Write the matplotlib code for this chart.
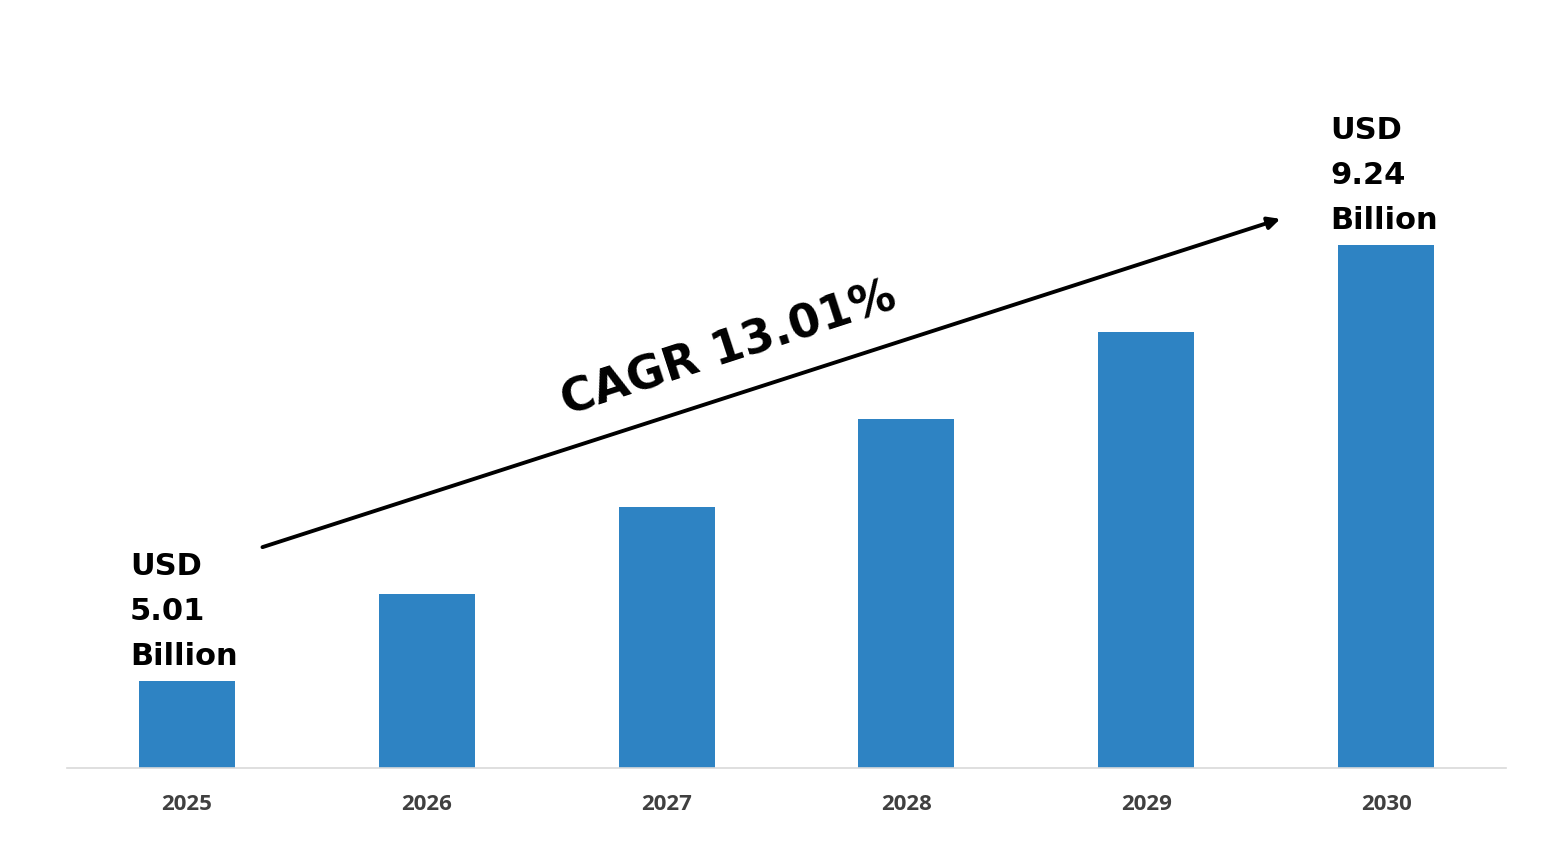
import numpy as np
import matplotlib.pyplot as plt

## Data
years = ['2025', '2026', '2027', '2028', '2029', '2030']
bar_values = [0.87, 1.74, 2.61, 3.49, 4.36, 5.23]
first_label = 'USD\n5.01\nBillion'
last_label = 'USD\n9.24\nBillion'
cagr_text = 'CAGR 13.01%'

bar_color = '#2E83C3'

fig = plt.figure(figsize=(15.41, 8.46), dpi=100)
ax = fig.add_axes([67 / 1541, 78 / 846, 1439 / 1541, 768 / 846])

x = np.arange(len(years))
ax.bar(x, bar_values, width=0.4, color=bar_color, zorder=2)

ax.set_xlim(-0.5, 5.5)
ax.set_ylim(0, 7.68)
ax.set_yticks([])
ax.set_xticks(x)
ax.set_xticklabels(years, fontsize=16, color='#404040', fontweight='bold',
                   family=['Open Sans', 'DejaVu Sans'])
ax.tick_params(axis='x', length=0, pad=19)
for side in ['top', 'left', 'right']:
    ax.spines[side].set_visible(False)
ax.spines['bottom'].set_color('#d9d9d9')
ax.spines['bottom'].set_linewidth(1.2)

# value labels on first and last bars
lab_font = dict(fontsize=22, fontweight='bold', color='black', family=['DejaVu Sans'],
                ha='left', va='bottom', linespacing=1.7)
ax.text(x[0] - 0.2375, bar_values[0] + 0.10, first_label, **lab_font)
ax.text(x[-1] - 0.2333, bar_values[-1] + 0.10, last_label, **lab_font)

# CAGR arrow
ax.annotate('', xy=(4.57, 5.50), xytext=(0.304, 2.20),
            arrowprops=dict(arrowstyle='-|>', color='black', lw=2.8, mutation_scale=18))
ax.text(2.26, 4.18, cagr_text, fontsize=33, fontweight='bold', rotation=18,
        family=['DejaVu Sans'], ha='center', va='center', rotation_mode='anchor')

fig.savefig('out.png', dpi=100)
